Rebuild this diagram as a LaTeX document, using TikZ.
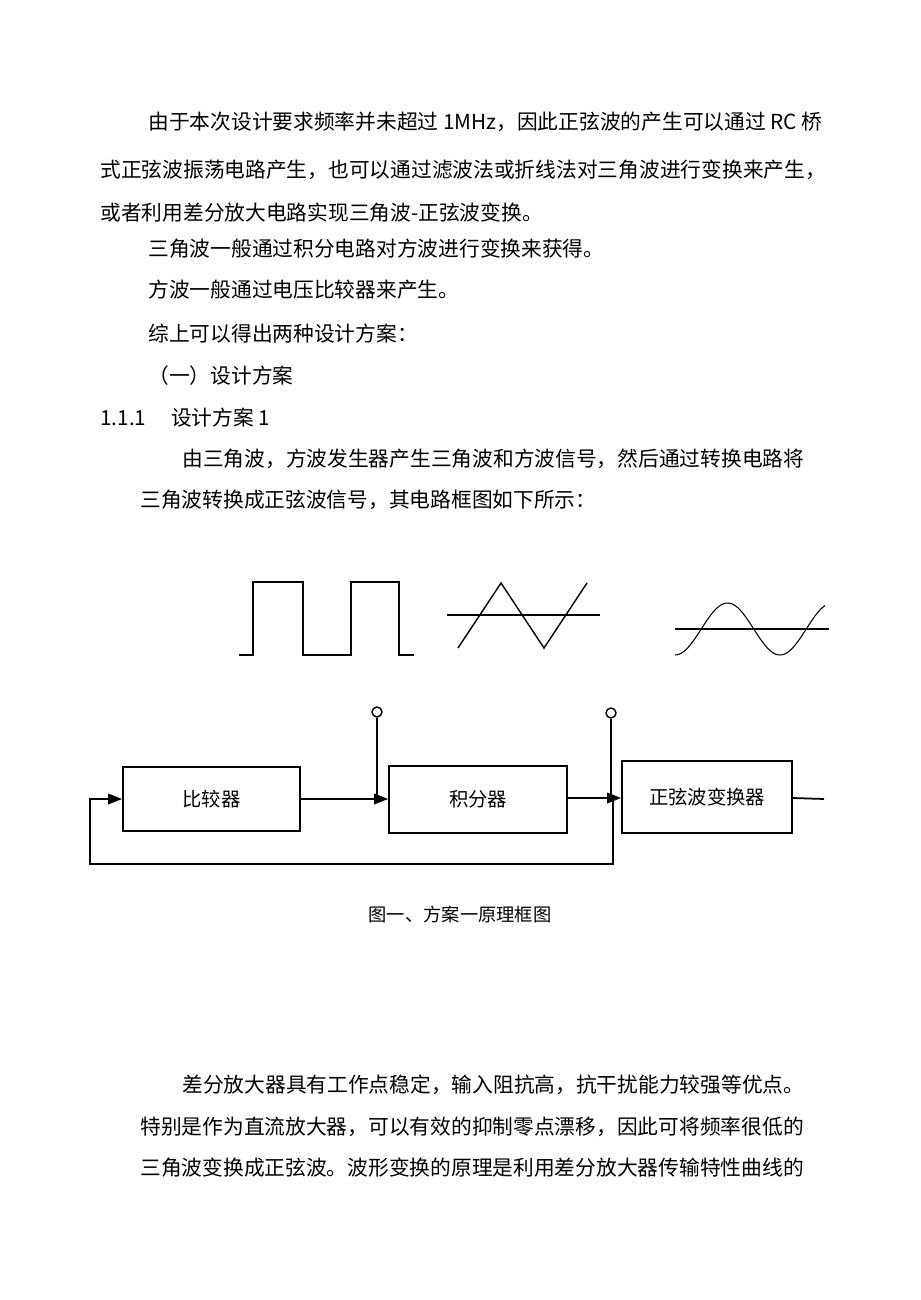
\documentclass[tikz,border=0pt]{standalone}
\usepackage{fontspec}
\setmainfont{Noto Sans CJK SC}
\usepackage{tikz}
\usetikzlibrary{arrows.meta,positioning}

\tikzset{
    txt/.style={anchor=west, inner sep=0pt, font=\fontsize{11.8pt}{12pt}\selectfont},
    blk/.style={draw, line width=1pt, inner sep=0pt, font=\fontsize{11pt}{12pt}\selectfont},
    wire/.style={line width=1pt},
    sig/.style={-{Triangle[length=8pt,width=6pt]}, line width=1pt}
}

\begin{document}
\begin{tikzpicture}[x=0.02cm, y=-0.02cm]
            \useasboundingbox (0,0) rectangle (920,1300);

            % body text
            \node[txt] (l1) at (148,122) {由于本次设计要求频率并未超过 1MHz，因此正弦波的产生可以通过 RC 桥};
            \node[txt] (l2) at (100,170) {式正弦波振荡电路产生，也可以通过滤波法或折线法对三角波进行变换来产生，};
            \node[txt] (l3) at (100,213) {或者利用差分放大电路实现三角波-正弦波变换。};
            \node[txt] (l4) at (148,249) {三角波一般通过积分电路对方波进行变换来获得。};
            \node[txt] (l5) at (148,290) {方波一般通过电压比较器来产生。};
            \node[txt] (l6) at (148,334) {综上可以得出两种设计方案：};
            \node[txt] (l7) at (148,376) {（一）设计方案};
            \node[txt] (l8) at (100,418) {1.1.1\hspace{1.2em}设计方案 1};
            \node[txt] (l9) at (182,459) {由三角波，方波发生器产生三角波和方波信号，然后通过转换电路将};
            \node[txt] (l10) at (140,500) {三角波转换成正弦波信号，其电路框图如下所示：};

            % waveforms
            \draw[wire] (239,655) -- (253,655) -- (253,582) -- (303,582) -- (303,655)
                        -- (351,655) -- (351,582) -- (399,582) -- (399,655) -- (414,655);
            \draw[wire] (447,615) -- (600,615);
            \draw[line width=0.8pt] (458,648) -- (501,583) -- (544,648) -- (587,583);
            \draw[wire] (675,629) -- (829,629);
            \draw[line width=0.6pt, domain=0:150, samples=80, smooth]
                plot ({675+\x}, {629+26*cos(\x*3.4286)});

            % blocks
            \node[blk, minimum width=177*0.02cm, minimum height=64*0.02cm] (cmp) at (211.5,799) {比较器};
            \node[blk, minimum width=178*0.02cm, minimum height=67*0.02cm] (intg) at (478,799.5) {积分器};
            \node[blk, minimum width=170*0.02cm, minimum height=72*0.02cm] (conv) at (707,797) {正弦波变换器};

            \node[draw, circle, line width=0.8pt, minimum size=10*0.02cm, inner sep=0pt] (o1) at (377,712) {};
            \node[draw, circle, line width=0.8pt, minimum size=10*0.02cm, inner sep=0pt] (o2) at (611,713) {};
            \coordinate (j1) at (377,799);
            \coordinate (j2) at (611,798);
            \coordinate (out) at (824,799);

            \draw[sig] (cmp.east |- j1) -- (intg.west |- j1);
            \draw[wire] (o1) -- (j1);
            \draw[sig] (intg.east |- j2) -- (conv.west |- j2);
            \draw[wire] (o2) -- (j2);
            \draw[wire] (conv.east |- j2) -- (out);
            \draw[sig] (613,798) -- (613,864) -- (90,864) -- (90,799) -- (cmp.west |- j1);

            \node[anchor=center, inner sep=0pt, font=\fontsize{10.4pt}{12pt}\selectfont] (cap) at (460,915) {图一、方案一原理框图};

            % body text after figure
            \node[txt] (l11) at (182,1085) {差分放大器具有工作点稳定，输入阻抗高，抗干扰能力较强等优点。};
            \node[txt] (l12) at (140,1127) {特别是作为直流放大器，可以有效的抑制零点漂移，因此可将频率很低的};
            \node[txt] (l13) at (140,1168) {三角波变换成正弦波。波形变换的原理是利用差分放大器传输特性曲线的};
\end{tikzpicture}
\end{document}
